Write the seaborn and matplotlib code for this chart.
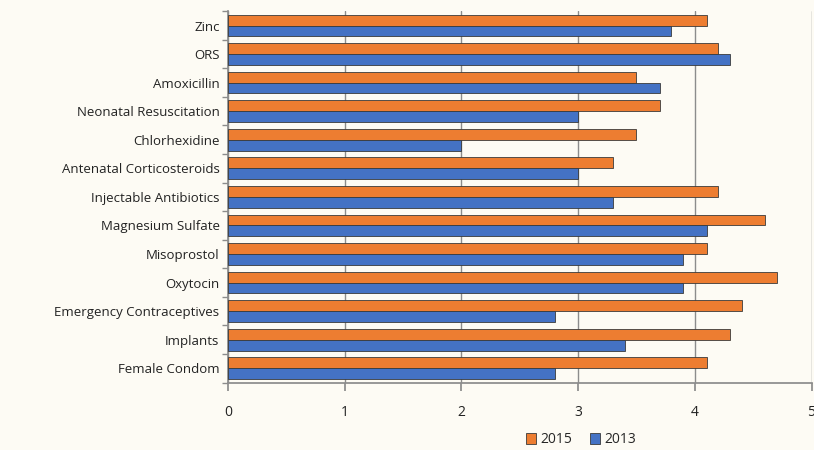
import pandas as pd
import matplotlib.pyplot as plt
import seaborn as sns

# --- Data ---
commodities = ["Zinc", "ORS", "Amoxicillin", "Neonatal Resuscitation", "Chlorhexidine",
               "Antenatal Corticosteroids", "Injectable Antibiotics", "Magnesium Sulfate",
               "Misoprostol", "Oxytocin", "Emergency Contraceptives", "Implants",
               "Female Condom"]
vals_2015 = [4.1, 4.2, 3.5, 3.7, 3.5, 3.3, 4.2, 4.6, 4.1, 4.7, 4.4, 4.3, 4.1]
vals_2013 = [3.8, 4.3, 3.7, 3.0, 2.0, 3.0, 3.3, 4.1, 3.9, 3.9, 2.8, 3.4, 2.8]
years = ["2015", "2013"]

C_2015 = "#ED7D31"
C_2013 = "#4472C4"
BG = "#FDFBF4"

df = pd.DataFrame({
    "Commodity": commodities * 2,
    "Score": vals_2015 + vals_2013,
    "Year": [years[0]] * len(commodities) + [years[1]] * len(commodities),
})

# --- Style ---
sns.set_theme(style="white")
plt.rcParams["font.family"] = ["Open Sans", "DejaVu Sans"]

fig, ax = plt.subplots(figsize=(8.14, 4.5), dpi=100)
fig.patch.set_facecolor(BG)
ax.set_facecolor(BG)

sns.barplot(data=df, y="Commodity", x="Score", hue="Year", hue_order=years,
            order=commodities, palette=[C_2015, C_2013], saturation=1, width=0.76,
            edgecolor="#3a3a3a", linewidth=0.6, ax=ax, zorder=3)

ax.set_xlim(0, 5)
ax.set_xticks(range(6))
ax.grid(axis="x", color="#8c8c8c", linewidth=1.0, zorder=0)
ax.set_xlabel("")
ax.set_ylabel("")

for s in ["top", "right"]:
    ax.spines[s].set_visible(False)
ax.spines["left"].set_color("#8c8c8c")
ax.spines["bottom"].set_color("#8c8c8c")

# minor ticks between categories on y axis
ax.set_yticks([i - 0.5 for i in range(len(commodities) + 1)], minor=True)
ax.tick_params(axis="y", which="minor", length=4, color="#8c8c8c", left=True)
ax.tick_params(axis="y", which="major", length=0, labelsize=9.5, colors="#222222", pad=6)
ax.tick_params(axis="x", length=6, color="#8c8c8c", bottom=True, labelsize=10,
               colors="#222222", pad=10)

ax.legend(loc="upper center", bbox_to_anchor=(0.605, -0.1), ncol=2, frameon=False,
          fontsize=10, handlelength=0.7, handleheight=0.9, columnspacing=1.3,
          handletextpad=0.3)

fig.subplots_adjust(left=0.28, right=0.997, top=0.975, bottom=0.15)
fig.savefig("out.png", dpi=100, facecolor=BG)
